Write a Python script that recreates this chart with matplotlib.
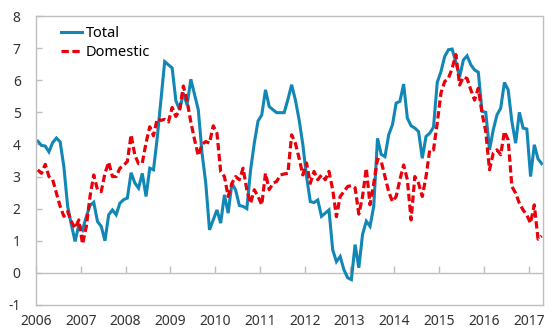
import matplotlib
matplotlib.use("Agg")
import matplotlib.pyplot as plt
import numpy as np

# Monthly data, Jan 2006 .. Apr 2017
start_year = 2006
years = list(range(2006, 2018))

total = [4.10, 3.97, 3.95, 3.77, 4.06, 4.20, 4.08, 3.30, 2.08, 1.50,
         0.98, 1.50, 1.34, 1.75, 2.10, 2.20, 1.60, 1.45, 1.00, 1.81,
         1.96, 1.81, 2.17, 2.28, 2.33, 3.12, 2.80, 2.64, 3.10, 2.38,
         3.26, 3.21, 4.20, 5.40, 6.58, 6.48, 6.38, 5.36, 5.08, 5.60,
         5.23, 6.03, 5.55, 5.08, 3.73, 2.80, 1.34, 1.65, 1.96, 1.55,
         2.43, 1.86, 2.79, 2.58, 2.10, 2.07, 2.00, 3.20, 4.04, 4.73,
         4.92, 5.70, 5.18, 5.08, 4.99, 4.99, 4.99, 5.40, 5.86, 5.39,
         4.77, 4.00, 3.00, 2.22, 2.19, 2.27, 1.76, 1.86, 1.96, 0.72,
         0.35, 0.51, 0.10, -0.15, -0.21, 0.88, 0.16, 1.20, 1.61, 1.45,
         2.08, 4.19, 3.69, 3.62, 4.30, 4.61, 5.29, 5.34, 5.88, 4.82,
         4.58, 4.51, 4.40, 3.57, 4.25, 4.35, 4.54, 5.93, 6.27, 6.74,
         6.95, 6.97, 6.55, 6.10, 6.63, 6.76, 6.48, 6.32, 6.25, 5.03,
         5.00, 3.83, 4.45, 4.92, 5.13, 5.93, 5.70, 4.71, 4.04, 5.00,
         4.51, 4.48, 3.00, 3.99, 3.55, 3.40]

domestic = [3.21, 3.10, 3.38, 3.00, 2.90, 2.48, 2.07, 1.76, 1.91, 1.60,
            1.39, 1.65, 0.90, 1.44, 2.38, 3.05, 2.59, 2.53, 3.10, 3.45,
            3.00, 3.00, 3.26, 3.35, 3.47, 4.30, 3.67, 3.40, 3.42, 4.05,
            4.55, 4.27, 4.80, 4.75, 4.78, 4.70, 5.15, 4.87, 5.08, 5.82,
            5.35, 4.70, 4.15, 3.65, 4.00, 4.09, 4.04, 4.58, 4.35, 3.15,
            3.00, 2.38, 2.79, 3.00, 2.90, 3.26, 2.59, 2.17, 2.59, 2.38,
            2.12, 3.10, 2.59, 2.79, 2.85, 3.05, 3.08, 3.10, 4.30, 4.04,
            3.57, 3.05, 3.42, 2.79, 3.16, 2.90, 3.05, 2.90, 3.16, 2.59,
            1.75, 2.38, 2.53, 2.69, 2.72, 2.65, 1.83, 2.38, 3.26, 2.12,
            2.79, 3.54, 3.47, 3.00, 2.53, 2.22, 2.38, 2.90, 3.36, 2.90,
            1.65, 3.00, 2.79, 2.38, 3.00, 3.83, 3.83, 4.66, 5.60, 5.96,
            6.06, 6.37, 6.80, 5.85, 6.10, 6.05, 5.70, 5.38, 5.75, 4.97,
            4.40, 3.21, 3.73, 3.83, 3.68, 4.40, 4.14, 2.69, 2.48, 2.17,
            1.96, 1.80, 1.55, 2.12, 1.05, 1.15]

series_names = ["Total", "Domestic"]
yticks = list(range(-1, 9))

plt.rcParams['font.family'] = ['Noto Sans', 'DejaVu Sans']
plt.rcParams['axes.unicode_minus'] = False

fig = plt.figure(figsize=(5.52, 3.31), dpi=100)
ax = fig.add_axes([36/552, 26/331, 507/552, 289/331])

x = np.arange(len(total)) + 0.47
ax.plot(x, total, color='#1287b5', lw=2.2, label=series_names[0], solid_joinstyle='miter')
ax.plot(x, domestic, color='#e8000b', lw=2.3, ls=(0, (2.3, 1.1)), label=series_names[1])

ax.set_xlim(0, 135.8)
ax.set_ylim(-1, 8)

grey = '#bfbfbf'
for s in ax.spines.values():
    s.set_color(grey)
    s.set_linewidth(1.0)

ax.set_yticks(yticks)
ax.set_yticklabels([str(v) for v in yticks])
ax.tick_params(axis='y', direction='in', length=4, width=1, color=grey,
               pad=11, labelsize=10, labelcolor='#333333')

xt = [12 * i for i in range(len(years))]
ax.set_xticks(xt)
ax.set_xticklabels([str(y) for y in years])
ax.tick_params(axis='x', length=0, pad=6.5, labelsize=10, labelcolor='#333333')

# zero axis with tick marks
sec = ax.secondary_xaxis(1/9)
sec.set_xticks(xt)
sec.set_xticklabels([])
sec.tick_params(direction='in', length=5, width=1, color=grey)
sec.spines['bottom'].set_color(grey)
sec.spines['bottom'].set_linewidth(1.0)

leg = ax.legend(loc='upper left', bbox_to_anchor=(0.037, 0.985), frameon=False,
                handlelength=1.5, handletextpad=0.2, labelspacing=0.25,
                fontsize=10.5, borderaxespad=0)

fig.savefig('out.png', dpi=100)
